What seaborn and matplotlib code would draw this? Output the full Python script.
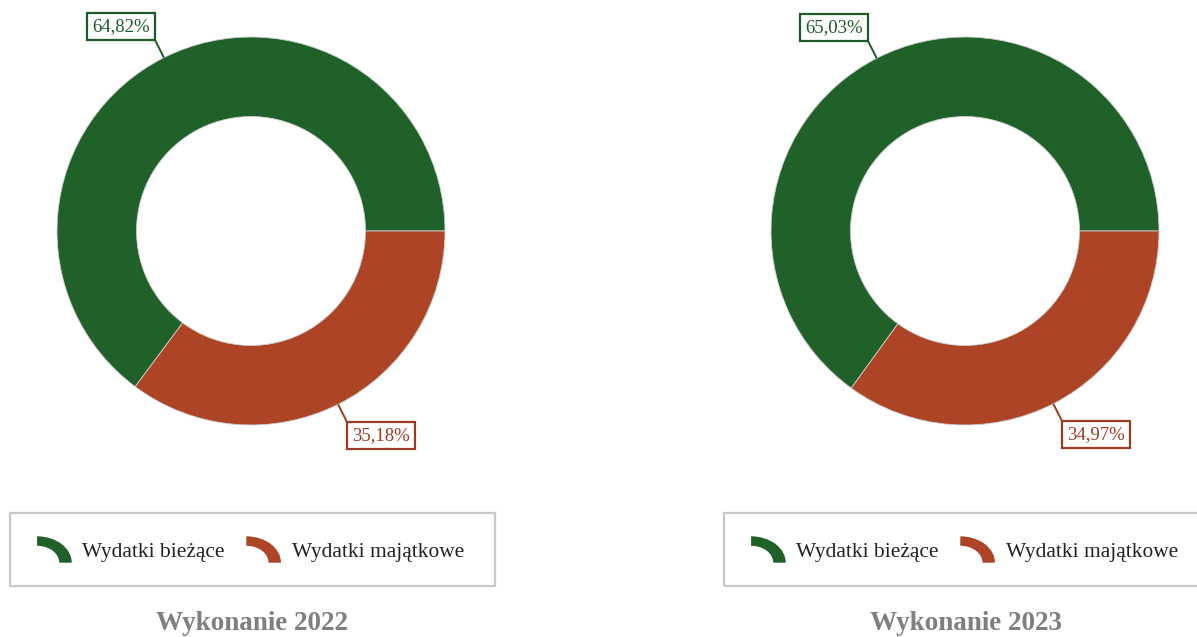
import numpy as np
import matplotlib
matplotlib.use("Agg")
import matplotlib.pyplot as plt
import seaborn as sns
from matplotlib.patches import Patch, Rectangle, Wedge
from matplotlib.legend_handler import HandlerBase
from matplotlib.transforms import Affine2D

# data
categories = ["Wydatki bieżące", "Wydatki majątkowe"]
titles = ["Wykonanie 2022", "Wykonanie 2023"]
share_2022 = [64.82, 35.18]
share_2023 = [65.03, 34.97]

colors = ["#1f6129", "#ae4426"]
label_colors = ["#1d5a28", "#9c3a23"]

sns.set_theme(style="white")
plt.rcParams["font.family"] = ["Liberation Serif", "DejaVu Serif"]

W, H = 1197, 637
fig = plt.figure(figsize=(W / 100, H / 100), dpi=100)


class ArcHandler(HandlerBase):
    """Legend key drawn as a quarter of a ring, like the donut slices."""

    def create_artists(self, legend, orig_handle, xdescent, ydescent,
                       width, height, fontsize, trans):
        arc = Wedge((0, 0), 1.0, 0, 90, width=0.36,
                    facecolor=orig_handle.get_facecolor(), edgecolor="none")
        arc.set_transform(Affine2D().scale(width, height)
                          .translate(-xdescent, -ydescent) + trans)
        return [arc]


def fmt(v):
    return f"{v:.2f}%".replace(".", ",")


def donut(cx, cy, values, title):
    radius_px = 194
    half = 215
    ax = fig.add_axes([(cx - half) / W, 1 - (cy + half) / H, 2 * half / W, 2 * half / H])
    wedges, _ = ax.pie(values, colors=colors, startangle=0, counterclock=True,
                       radius=1.0, wedgeprops=dict(width=0.41, edgecolor="#d0d0d0", linewidth=0.6))
    lim = half / radius_px
    ax.set_xlim(-lim, lim)
    ax.set_ylim(-lim, lim)
    ax.set_aspect("equal")
    ax.axis("off")

    fs = 13.5
    pad = 0.27
    for w, v, c in zip(wedges, values, label_colors):
        ang = np.deg2rad((w.theta1 + w.theta2) / 2)
        x0, y0 = np.cos(ang), np.sin(ang)
        x1, y1 = 1.1 * x0, 1.1 * y0
        ax.plot([x0, x1], [y0, y1], color=c, lw=1.4, solid_capstyle="butt")
        sx = 1 if x0 >= 0 else -1
        sy = 1 if y0 >= 0 else -1
        off = pad * fs
        ax.annotate(fmt(v), xy=(x1, y1), xytext=(sx * off, sy * off),
                    textcoords="offset points",
                    ha="left" if sx > 0 else "right",
                    va="bottom" if sy > 0 else "top",
                    fontsize=fs, color=c,
                    bbox=dict(boxstyle=f"square,pad={pad}", facecolor="white",
                              edgecolor=c, linewidth=1.6))

    # legend frame + legend
    fig.add_artist(Rectangle(((cx - 241) / W, 1 - 586 / H), 485 / W, 73 / H,
                             transform=fig.transFigure, fill=False,
                             edgecolor="#c8c8c8", linewidth=1.6))
    handles = [Patch(facecolor=c) for c in colors]
    fig.legend(handles, categories, loc="center",
               bbox_to_anchor=((cx - 0.5) / W, 1 - 549.5 / H),
               ncol=2, frameon=False, handler_map={Patch: ArcHandler()},
               handlelength=1.62, handleheight=1.52, handletextpad=0.5,
               columnspacing=1.0, fontsize=15.4, labelcolor="#222222")

    fig.text((cx + 1) / W, 1 - 624 / H, title, ha="center", va="center",
             fontsize=19.5, fontweight="bold", color="#7f7f7f")


donut(251, 231, share_2022, titles[0])
donut(965, 231, share_2023, titles[1])

fig.savefig("out.png", dpi=100, facecolor="white")
